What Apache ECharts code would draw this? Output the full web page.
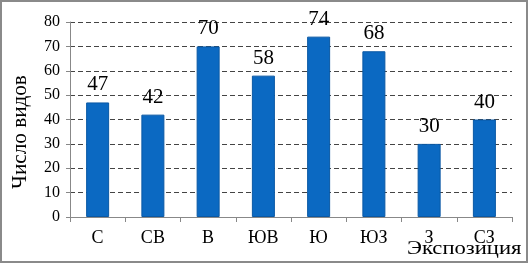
<!DOCTYPE html>
<html><head><meta charset="utf-8">
<script src="https://cdn.jsdelivr.net/npm/echarts@6/dist/echarts.min.js"></script>
<style>html,body{margin:0;padding:0;background:#fff}#c{width:529px;height:264px}</style>
</head><body><div id="c"></div>
<script>
const categories = ['С','СВ','В','ЮВ','Ю','ЮЗ','З','СЗ'];
const values = [47,42,70,58,74,68,30,40];
const yTicks = [0,10,20,30,40,50,60,70,80];
const yTitle = 'Число видов';
const xTitle = 'Экспозиция';

const chart = echarts.init(document.getElementById('c'));
const serif = 'Liberation Serif';
chart.setOption({
  animation:false,
  textStyle:{fontFamily:serif},
  grid:{left:70,right:17,top:22,bottom:47,containLabel:false},
  graphic:[
    {type:'rect',shape:{x:1,y:1,width:526,height:261},style:{fill:'none',stroke:'#8a8a8a',lineWidth:2},silent:true},
    {type:'text',x:407,y:249,scaleX:1.19,style:{text:xTitle,fontFamily:serif,fontSize:19,fill:'#000',align:'left',verticalAlign:'middle'}},
    {type:'text',x:21,y:132,rotation:Math.PI/2,scaleX:1.06,style:{text:yTitle,fontFamily:serif,fontSize:20,fill:'#000',align:'center',verticalAlign:'middle'}}
  ],
  xAxis:{type:'category',data:categories,
    axisLine:{lineStyle:{color:'#888',width:1}},
    axisTick:{show:true,alignWithLabel:false,length:5,lineStyle:{color:'#888'}},
    axisLabel:{color:'#000',fontFamily:serif,fontSize:18,margin:12}},
  yAxis:{type:'value',min:yTicks[0],max:yTicks[yTicks.length-1],interval:10,
    axisLine:{show:true,lineStyle:{color:'#888'}},
    axisTick:{show:true,length:4,lineStyle:{color:'#888'}},
    axisLabel:{color:'#000',fontFamily:serif,fontSize:16,margin:10},
    splitLine:{show:true,lineStyle:{color:'#444',type:[5,3],width:1}}},
  series:[{type:'bar',data:values,barWidth:23,
    itemStyle:{color:'#0b69c2',borderColor:'#0a58a4',borderWidth:1},
    label:{show:true,position:'top',distance:7,color:'#000',fontFamily:serif,fontSize:21}}]
});
</script></body></html>
